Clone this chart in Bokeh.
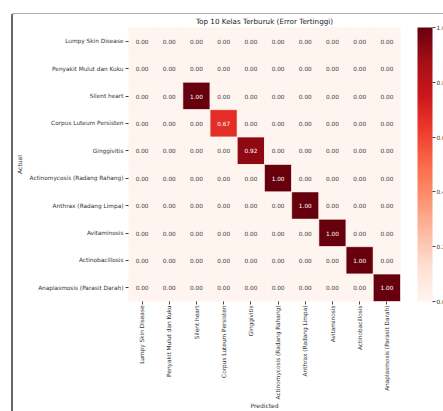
import numpy as np
from bokeh.plotting import figure
from bokeh.models import (ColumnDataSource, LinearColorMapper, ColorBar, FixedTicker,
                          PrintfTickFormatter, InlineStyleSheet)
from bokeh.palettes import Reds256
from bokeh.embed import file_html
from bokeh.resources import INLINE
from bokeh.core.properties import value

classes = ["Lumpy Skin Disease", "Penyakit Mulut dan Kuku", "Silent heart",
           "Corpus Luteum Persisten", "Ginggivitis", "Actinomycosis (Radang Rahang)",
           "Anthrax (Radang Limpa)", "Avitaminosis", "Actinobacillosis",
           "Anaplasmosis (Parasit Darah)"]
diag_values = [0.00, 0.00, 1.00, 0.67, 0.92, 1.00, 1.00, 1.00, 1.00, 1.00]
cbar_ticks = [0.0, 0.2, 0.4, 0.6, 0.8, 1.0]

matrix = np.zeros((len(classes), len(classes)))
for i, v in enumerate(diag_values):
    matrix[i, i] = v

xs, ys, vals, labels, tcolors = [], [], [], [], []
for i, actual in enumerate(classes):
    for j, pred in enumerate(classes):
        v = matrix[i, j]
        xs.append(pred)
        ys.append(actual)
        vals.append(v)
        labels.append(f"{v:.2f}")
        tcolors.append("white" if v > 0.5 else "#3a3a3a")

src = ColumnDataSource(dict(x=xs, y=ys, v=vals, label=labels, tc=tcolors))

mapper = LinearColorMapper(palette=list(Reds256[::-1]), low=0, high=1)

css = InlineStyleSheet(css="""
:host { position: relative; }
:host::after { content: ""; position: absolute; left: 11px; top: 13px; right: 0px; bottom: 0px;
  border-left: 2px solid #666666; border-top: 1px solid #b0b0b0; border-top-left-radius: 3px;
  pointer-events: none; }
""")

p = figure(frame_width=272, frame_height=274, x_range=classes, y_range=classes[::-1],
           output_backend="svg", toolbar_location=None,
           min_border_left=128, min_border_right=43, min_border_top=27,
           min_border_bottom=110, title="Top 10 Kelas Terburuk (Error Tertinggi)",
           stylesheets=[css])
p.title.align = "center"
p.title.text_font = "DejaVu Sans"
p.title.text_font_size = "7.2px"
p.title.text_font_style = "normal"
p.title.text_color = "#222222"
p.title.standoff = 4

p.rect(x="x", y="y", width=1, height=1, source=src,
       fill_color={"field": "v", "transform": mapper},
       line_color="#fff0ea", line_width=0.6)
p.text(x="x", y="y", text="label", source=src, text_color="tc",
       text_align="center", text_baseline="middle",
       text_font=value("DejaVu Sans"), text_font_size="5.8px")

for ax in (p.xaxis[0], p.yaxis[0]):
    ax.axis_line_color = None
    ax.major_tick_in = 0
    ax.major_tick_out = 3
    ax.major_tick_line_color = "#444444"
    ax.major_label_text_font = "DejaVu Sans"
    ax.major_label_text_font_size = "5.8px"
    ax.major_label_text_color = "#333333"
    ax.major_label_standoff = 2
    ax.axis_label_text_font = "DejaVu Sans"
    ax.axis_label_text_font_size = "6px"
    ax.axis_label_text_font_style = "normal"
    ax.axis_label_text_color = "#333333"
    ax.axis_label_standoff = 4
p.xaxis.major_label_orientation = np.pi / 2
p.xaxis.major_label_standoff = 1
p.xaxis.axis_label_standoff = 0
p.xaxis.axis_label = "Predicted"
p.yaxis.axis_label = "Actual"
p.xgrid.visible = False
p.ygrid.visible = False
p.outline_line_color = None

cb = ColorBar(color_mapper=mapper, width=15, height=274, padding=0, margin=0,
              location=(289, 0),
              ticker=FixedTicker(ticks=cbar_ticks),
              formatter=PrintfTickFormatter(format="%.1f"),
              major_tick_in=0, major_tick_out=3, major_tick_line_color="#444444",
              major_label_text_font="DejaVu Sans", major_label_text_font_size="5.8px",
              major_label_text_color="#333333", label_standoff=1,
              bar_line_color=None, background_fill_alpha=0)
p.add_layout(cb, "center")

open("out.html", "w").write(file_html(p, INLINE))
